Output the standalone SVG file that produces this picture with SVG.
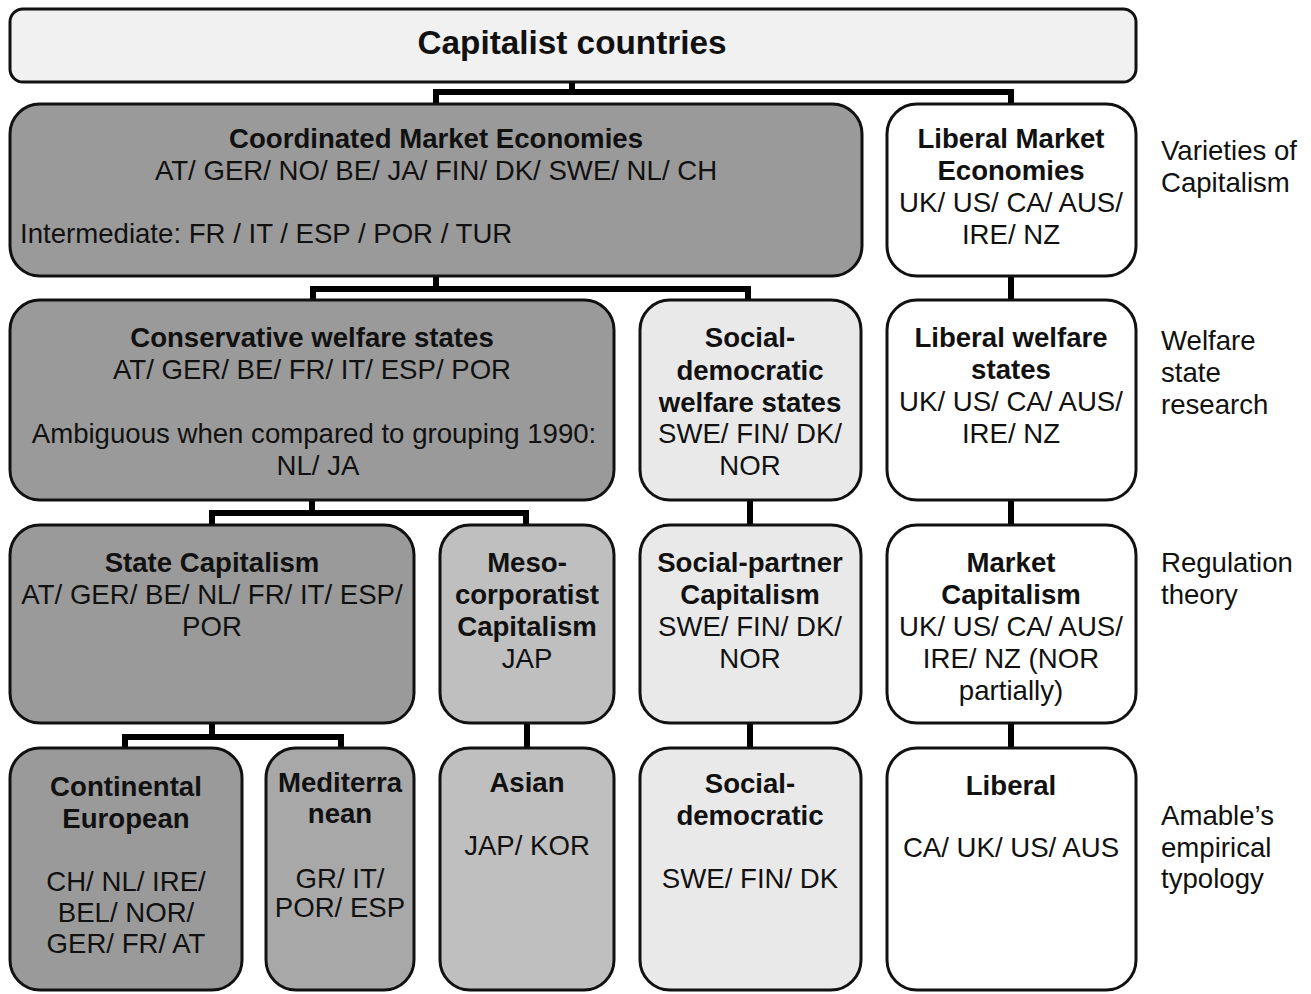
<svg xmlns="http://www.w3.org/2000/svg" width="1311" height="994" viewBox="0 0 1311 994">
<style>
.box{stroke:#111;stroke-width:3}
.dark{fill:#9a9a9a}
.med{fill:#a8a8a8}
.mid{fill:#bfbfbf}
.light{fill:#e9e9e9}
.white{fill:#ffffff}
.top{fill:#f1f1f1}
text{font-family:"Liberation Sans",Arial,sans-serif;font-size:27.6px;fill:#111;text-anchor:middle}
.b{font-weight:bold}
.l{text-anchor:start}
.title{font-size:33.3px;font-weight:bold}
.conn{fill:none;stroke:#000;stroke-width:6}
</style>
<rect x="0" y="0" width="1311" height="994" fill="#fff"/>
<g id="connectors">
<path class="conn" d="M572 82V92M436 92H1011M436 89V104M1011 89V104"/>
<path class="conn" d="M436 276V289M313 289H748M313 286V300M748 286V300"/>
<path class="conn" d="M1011 276V300"/>
<path class="conn" d="M312 500V513M212 513H526M212 510V525M526 510V525"/>
<path class="conn" d="M750 500V525M1011 500V525"/>
<path class="conn" d="M212 723V737M125 737H341M125 734V748M341 734V748"/>
<path class="conn" d="M527 723V748M750 723V748M1011 723V748"/>
</g>
<g id="capitalist-countries">
<rect class="box top" x="10" y="9" width="1126" height="73" rx="13"/>
<text class="title" x="572" y="54">Capitalist countries</text>
</g>
<g id="cme">
<rect class="box dark" x="10" y="104" width="852" height="172" rx="30"/>
<text class="b" x="436" y="148">Coordinated Market Economies</text>
<text x="436" y="180">AT/ GER/ NO/ BE/ JA/ FIN/ DK/ SWE/ NL/ CH</text>
<text class="l" x="20" y="243">Intermediate: FR / IT / ESP / POR / TUR</text>
</g>
<g id="lme">
<rect class="box white" x="887" y="104" width="249" height="172" rx="30"/>
<text class="b" x="1011" y="148">Liberal Market</text>
<text class="b" x="1011" y="180">Economies</text>
<text x="1011" y="212">UK/ US/ CA/ AUS/</text>
<text x="1011" y="244">IRE/ NZ</text>
</g>
<g id="label-voc">
<text class="l" x="1161" y="160">Varieties of</text>
<text class="l" x="1161" y="192">Capitalism</text>
</g>
<g id="conservative">
<rect class="box dark" x="10" y="300" width="604" height="200" rx="30"/>
<text class="b" x="312" y="347">Conservative welfare states</text>
<text x="312" y="379">AT/ GER/ BE/ FR/ IT/ ESP/ POR</text>
<text x="314" y="443">Ambiguous when compared to grouping 1990:</text>
<text x="318" y="475">NL/ JA</text>
</g>
<g id="socdem-welfare">
<rect class="box light" x="640" y="300" width="221" height="200" rx="30"/>
<text class="b" x="750" y="347">Social-</text>
<text class="b" x="750" y="380">democratic</text>
<text class="b" x="750" y="412">welfare states</text>
<text x="750" y="443">SWE/ FIN/ DK/</text>
<text x="750" y="475">NOR</text>
</g>
<g id="liberal-welfare">
<rect class="box white" x="887" y="300" width="249" height="200" rx="30"/>
<text class="b" x="1011" y="347">Liberal welfare</text>
<text class="b" x="1011" y="379">states</text>
<text x="1011" y="411">UK/ US/ CA/ AUS/</text>
<text x="1011" y="443">IRE/ NZ</text>
</g>
<g id="label-welfare">
<text class="l" x="1161" y="350">Welfare</text>
<text class="l" x="1161" y="382">state</text>
<text class="l" x="1161" y="414">research</text>
</g>
<g id="state-capitalism">
<rect class="box dark" x="10" y="525" width="404" height="198" rx="30"/>
<text class="b" x="212" y="572">State Capitalism</text>
<text x="212" y="604">AT/ GER/ BE/ NL/ FR/ IT/ ESP/</text>
<text x="212" y="636">POR</text>
</g>
<g id="meso">
<rect class="box mid" x="440" y="525" width="174" height="198" rx="30"/>
<text class="b" x="527" y="572">Meso-</text>
<text class="b" x="527" y="604">corporatist</text>
<text class="b" x="527" y="636">Capitalism</text>
<text x="527" y="668">JAP</text>
</g>
<g id="social-partner">
<rect class="box light" x="640" y="525" width="221" height="198" rx="30"/>
<text class="b" x="750" y="572">Social-partner</text>
<text class="b" x="750" y="604">Capitalism</text>
<text x="750" y="636">SWE/ FIN/ DK/</text>
<text x="750" y="668">NOR</text>
</g>
<g id="market-capitalism">
<rect class="box white" x="887" y="525" width="249" height="198" rx="30"/>
<text class="b" x="1011" y="572">Market</text>
<text class="b" x="1011" y="604">Capitalism</text>
<text x="1011" y="636">UK/ US/ CA/ AUS/</text>
<text x="1011" y="668">IRE/ NZ (NOR</text>
<text x="1011" y="700">partially)</text>
</g>
<g id="label-regulation">
<text class="l" x="1161" y="572">Regulation</text>
<text class="l" x="1161" y="604">theory</text>
</g>
<g id="continental">
<rect class="box dark" x="10" y="748" width="232" height="242" rx="30"/>
<text class="b" x="126" y="796">Continental</text>
<text class="b" x="126" y="828">European</text>
<text x="126" y="891">CH/ NL/ IRE/</text>
<text x="126" y="922">BEL/ NOR/</text>
<text x="126" y="953">GER/ FR/ AT</text>
</g>
<g id="mediterranean">
<rect class="box med" x="266" y="748" width="148" height="242" rx="30"/>
<text class="b" x="340" y="792">Mediterra</text>
<text class="b" x="340" y="823">nean</text>
<text x="340" y="888">GR/ IT/</text>
<text x="340" y="917">POR/ ESP</text>
</g>
<g id="asian">
<rect class="box mid" x="440" y="748" width="174" height="242" rx="30"/>
<text class="b" x="527" y="792">Asian</text>
<text x="527" y="855">JAP/ KOR</text>
</g>
<g id="social-democratic">
<rect class="box light" x="640" y="748" width="221" height="242" rx="30"/>
<text class="b" x="750" y="793">Social-</text>
<text class="b" x="750" y="825">democratic</text>
<text x="750" y="888">SWE/ FIN/ DK</text>
</g>
<g id="liberal">
<rect class="box white" x="887" y="748" width="249" height="242" rx="30"/>
<text class="b" x="1011" y="795">Liberal</text>
<text x="1011" y="857">CA/ UK/ US/ AUS</text>
</g>
<g id="label-amable">
<text class="l" x="1161" y="825">Amable’s</text>
<text class="l" x="1161" y="857">empirical</text>
<text class="l" x="1161" y="888">typology</text>
</g>
</svg>
